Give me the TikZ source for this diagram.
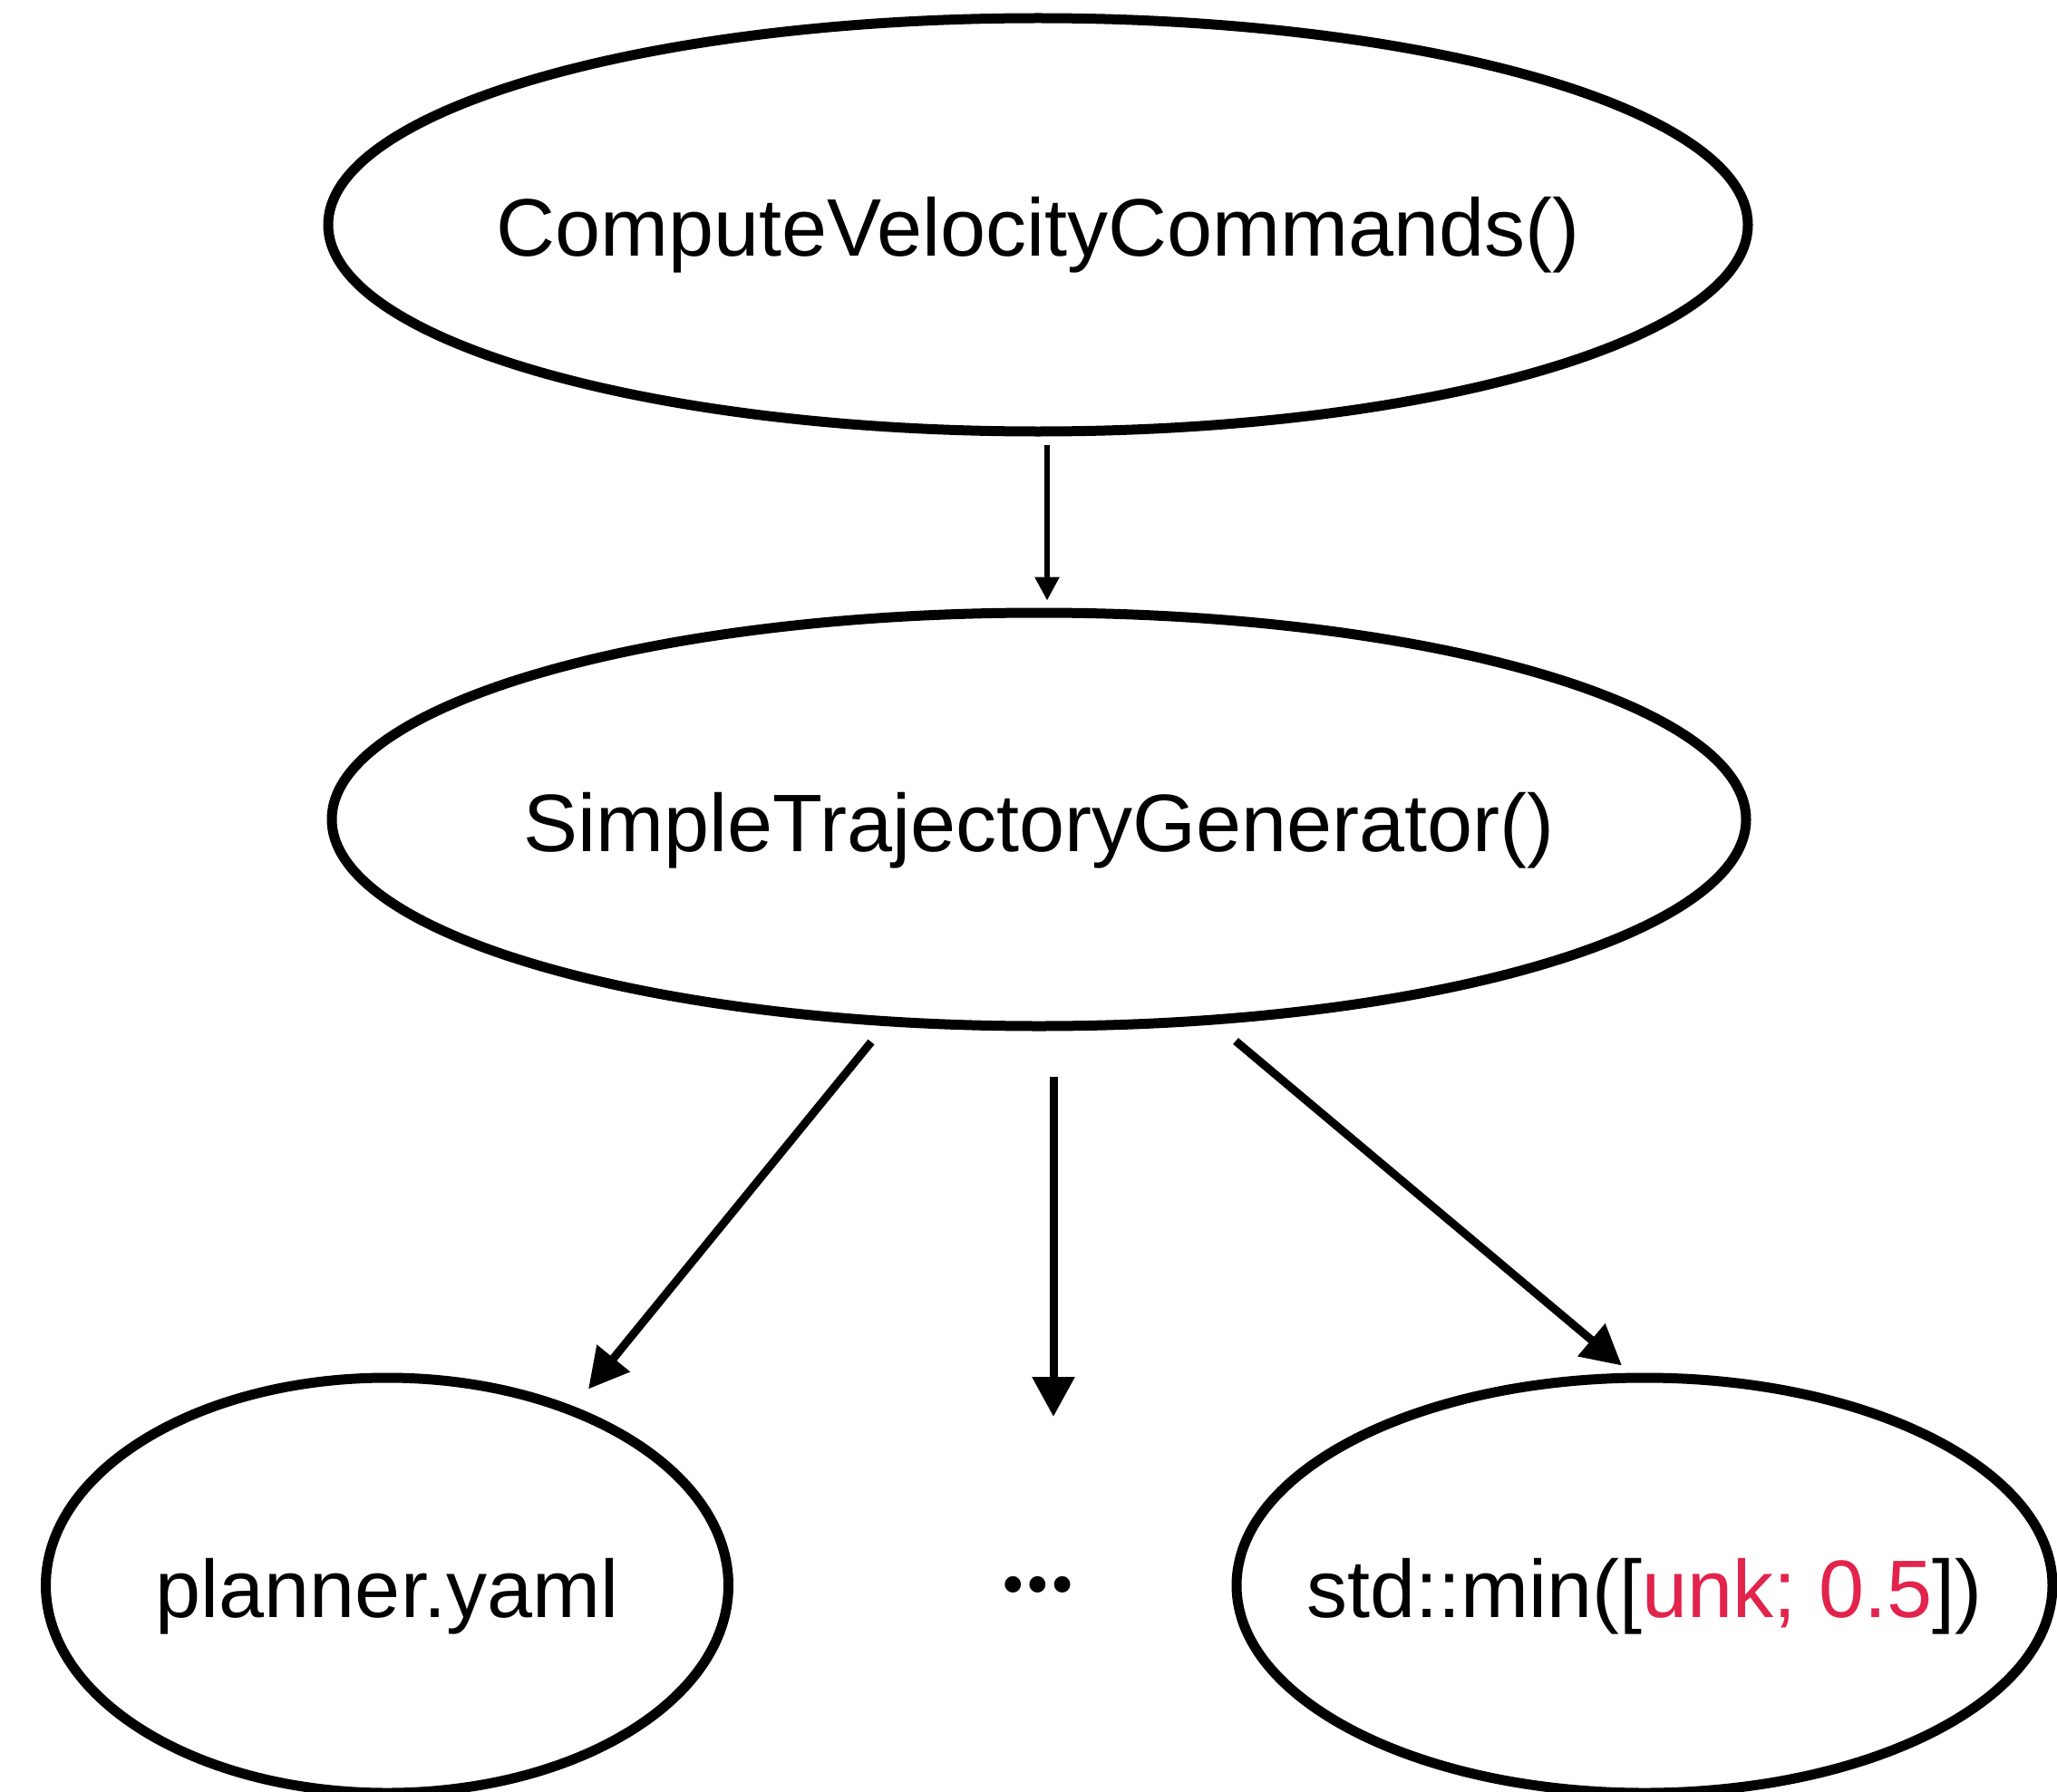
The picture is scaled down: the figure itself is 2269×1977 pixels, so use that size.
\documentclass[tikz,border=0pt]{standalone}
\usepackage{fontspec}
\setmainfont{Liberation Sans}
\newfontfamily\dotsfont{Poppins}
\usetikzlibrary{shapes.geometric,arrows.meta,calc}
\definecolor{tokred}{RGB}{226,35,75}
\begin{document}
\begin{tikzpicture}[x=1pt,y=-1pt,
  oval/.style={ellipse,draw,line width=11pt,inner sep=0pt,minimum height=456pt},
  txt/.style={font=\fontsize{90}{108}\selectfont,text height=70pt,text depth=0pt,inner sep=0pt},
  thinarrow/.style={line width=6pt,-{Triangle[length=26pt,width=26pt]}},
  thickarrow/.style={line width=9pt,-{Triangle[length=44pt,width=45pt]}}]
\useasboundingbox (0,0) rectangle (2269,1977);

% call graph nodes
\node[oval,minimum width=1566pt] (cvc) at (1145,248) {};
\node[txt] (cvct) at (cvc) {ComputeVelocityCommands()};

\node[oval,minimum width=1560pt] (stg) at (1146,904) {};
\node[txt] (stgt) at (stg) {SimpleTrajectoryGenerator()};

\node[oval,minimum width=753pt,minimum height=458pt] (yaml) at (427,1749) {};
\node[txt] (yamlt) at (yaml) {planner.yaml};

\node[oval,minimum width=900pt,minimum height=458pt] (smin) at (1814,1749) {};
\node[txt] (smint) at (smin) {std::min([{\color{tokred}unk; 0.5}])};

\node[inner sep=0pt,font=\dotsfont\fontsize{145}{160}\selectfont] (dots) at (1145,1748) {…};

% edges
\draw[thinarrow] ($(cvc.south)+(10,9)$) -- ($(stg.north)+(9,-8)$);
\draw[thickarrow] ($(stg.south)+(-185,12)$) -- ($(yaml.north)+(222,18)$);
\draw[thickarrow] ($(stg.south)+(16,50)$) -- ($(dots)+(17,-185)$);
\draw[thickarrow] ($(stg.south)+(217,11)$) -- ($(smin.north)+(-25,-8)$);
\end{tikzpicture}
\end{document}
